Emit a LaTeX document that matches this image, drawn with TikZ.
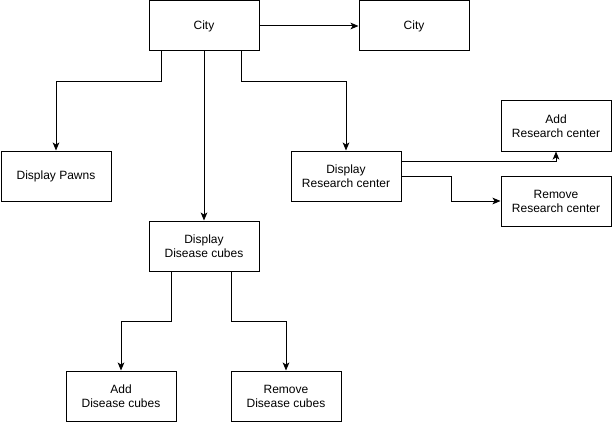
\documentclass[tikz,border=0pt]{standalone}
\usepackage{fontspec}
\setmainfont{Liberation Sans}
\usetikzlibrary{positioning,arrows.meta}

\begin{document}
\begin{tikzpicture}[
        x=0.75pt, y=-0.75pt,
        every node/.style={font=\fontsize{9}{10.5}\selectfont},
        box/.style={
            draw=black,
            line width=0.75pt,
            align=center,
            minimum width=82.5pt,
            minimum height=37.5pt,
            inner sep=0pt
        },
        >={Stealth[length=6pt,width=5pt,inset=1.5pt]},
        arrow/.style={->, line width=0.75pt, draw=black}
    ]
        \useasboundingbox (0,0) rectangle (613,424);

        % Top row
        \node[box] (city) at (204,26) {City};
        \node[box] (city2) at (414,26) {City};

        % Second row
        \node[box] (pawns) at (56,176) {Display Pawns};
        \node[box] (drc) at (346,176) {Display\\Research center};
        \node[box] (addrc) at (556,126) {Add\\Research center};
        \node[box] (remrc) at (556,201) {Remove\\Research center};

        % Disease cubes
        \node[box] (ddc) at (204,246) {Display\\Disease cubes};
        \node[box] (adddc) at (121,396) {Add\\Disease cubes};
        \node[box] (remdc) at (286,396) {Remove\\Disease cubes};

        % City arrows
        \draw[arrow] (city.east) -- (city2.west);
        \draw[arrow] ([xshift=-43*0.75pt]city.south) -- ++(0,30) -| (pawns.north);
        \draw[arrow] (city.south) -- (ddc.north);
        \draw[arrow] ([xshift=37*0.75pt]city.south) -- ++(0,30) -| (drc.north);

        % Research center arrows
        \draw[arrow] ([yshift=15*0.75pt]drc.east) -| (addrc.south);
        \draw[arrow] (drc.east) -- ++(50,0) |- (remrc.west);

        % Disease cubes arrows
        \draw[arrow] ([xshift=-33*0.75pt]ddc.south) -- ++(0,50) -| (adddc.north);
        \draw[arrow] ([xshift=27*0.75pt]ddc.south) -- ++(0,50) -| (remdc.north);

    \end{tikzpicture}
\end{document}
